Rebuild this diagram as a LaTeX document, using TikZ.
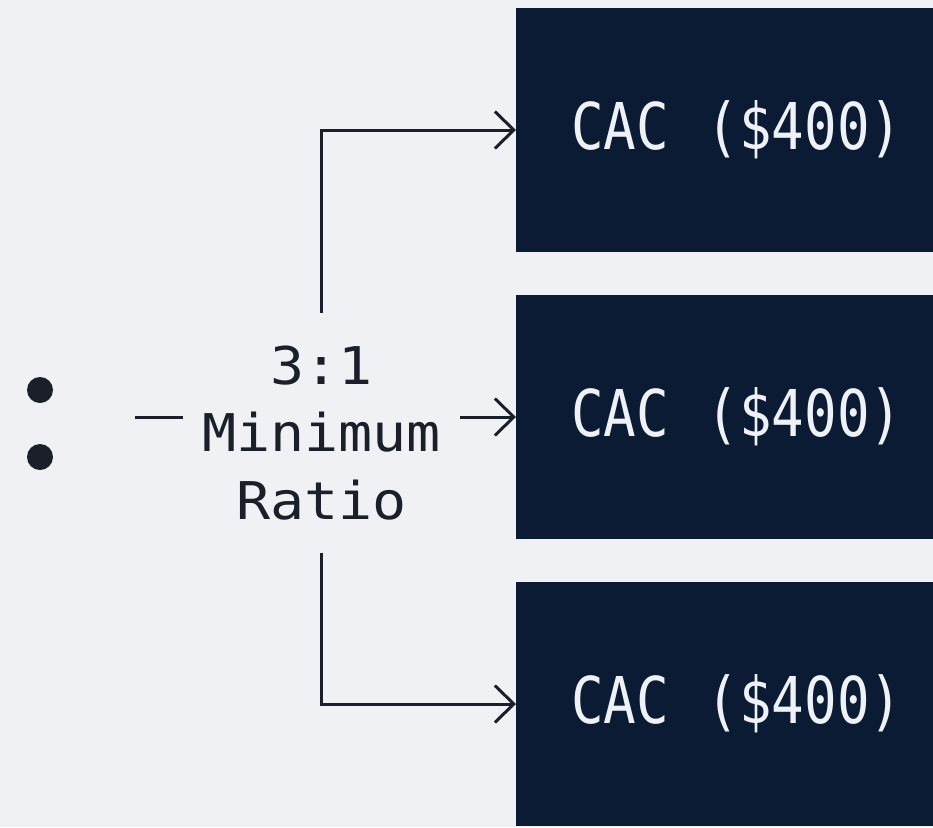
\documentclass[tikz,border=0pt]{standalone}
\usepackage{fontspec}
\usetikzlibrary{arrows.meta}
\newfontfamily\labelmono[FakeStretch=1.09]{DejaVu Sans Mono}
\newfontfamily\boxmono[FakeStretch=0.84]{DejaVu Sans Mono}
\definecolor{pagebg}{HTML}{EFF1F5}
\definecolor{navy}{HTML}{0B1B34}
\definecolor{ink}{HTML}{1A1F29}
\definecolor{boxtext}{HTML}{EEF2F7}
% box caption with a slightly wider gap before the amount
\newcommand{\cac}{CAC\hspace{16pt} (\$400)}
\tikzset{
  conn/.style={draw=ink, line width=3pt, -{Straight Barb[length=19pt,width=37pt]}},
  cacbox/.style={rectangle, fill=navy, text=boxtext, minimum height=244pt,
    text width=440pt, align=left, inner xsep=55pt, inner ysep=0pt,
    font=\boxmono\fontsize{64.5}{70}\selectfont},
  ratiolabel/.style={rectangle, fill=pagebg, text=ink, align=center,
    inner sep=0pt, minimum width=277pt, minimum height=240pt,
    font=\labelmono\fontsize{52}{67.5}\selectfont},
  dotmark/.style={circle, fill=ink, minimum size=26pt, inner sep=0pt}
}
\begin{document}
\begin{tikzpicture}[x=1pt,y=-1pt]
  \useasboundingbox (0,0) rectangle (933,827);
  \fill[pagebg] (0,0) rectangle (933,827);
  \clip (0,0) rectangle (933,827);

  % target boxes (running past the right edge)
  \node[cacbox, anchor=west] (box1) at (516,130) {\cac};
  \node[cacbox, anchor=west] (box2) at (516,417) {\cac};
  \node[cacbox, anchor=west] (box3) at (516,704) {\cac};

  % source marks
  \node[dotmark] (dot1) at (40,390) {};
  \node[dotmark] (dot2) at (40,457) {};
  \coordinate (start) at (135,417);

  % middle connector, label sits on top of it
  \draw[conn] (start) -- (box2.west);
  \node[ratiolabel] (ratio) at (321.5,433) {3:1\\Minimum\\Ratio};

  % branches to the upper and lower boxes
  \draw[conn] (ratio.north) |- (box1.west);
  \draw[conn] (ratio.south) |- (box3.west);
\end{tikzpicture}
\end{document}
